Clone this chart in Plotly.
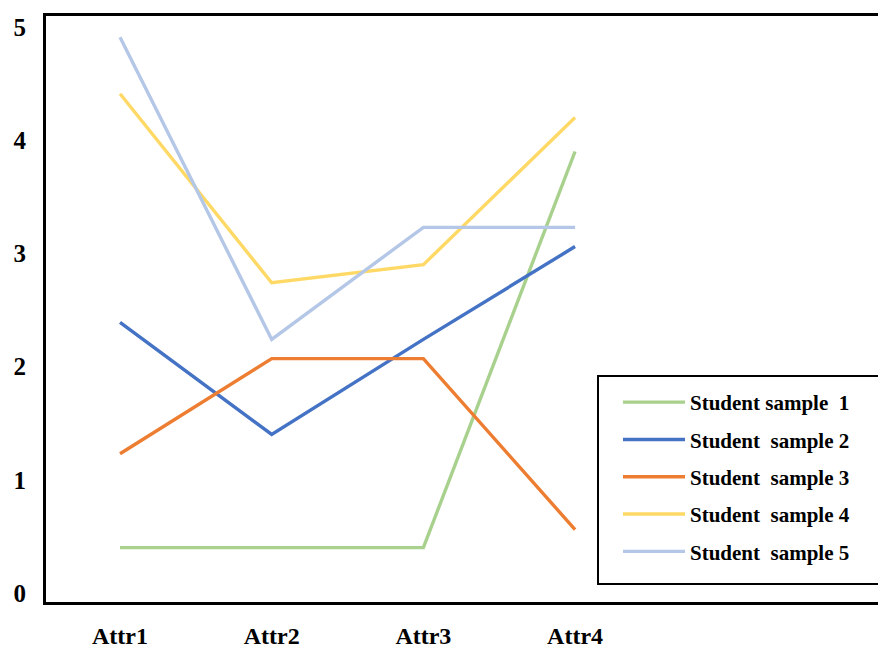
import plotly.graph_objects as go

categories = ["Attr1", "Attr2", "Attr3", "Attr4"]
x_pos = [0, 1, 2, 3]

series_names = [
    "Student sample\u00a0 1",
    "Student\u00a0 sample 2",
    "Student\u00a0 sample 3",
    "Student\u00a0 sample 4",
    "Student\u00a0 sample 5",
]
sample1 = [0.40, 0.40, 0.40, 3.90]
sample2 = [2.39, 1.40, 2.24, 3.06]
sample3 = [1.23, 2.07, 2.07, 0.56]
sample4 = [4.41, 2.74, 2.90, 4.20]
sample5 = [4.91, 2.24, 3.23, 3.23]
series_values = [sample1, sample2, sample3, sample4, sample5]
colors = ["#A9D18E", "#4472C4", "#ED7D31", "#FFD966", "#B4C7E7"]

y_ticks = [0, 1, 2, 3, 4, 5]

FONT = "Liberation Serif, Times New Roman, serif"

fig = go.Figure()
for i, (name, vals, col) in enumerate(zip(series_names, series_values, colors)):
    fig.add_trace(go.Scatter(
        x=x_pos, y=vals, mode="lines", name=name,
        line=dict(color=col, width=3.4),
        legendgroup=f"g{i}",
    ))

fig.update_layout(
    width=886, height=648,
    margin=dict(l=38, r=8, t=8, b=54, autoexpand=False),
    paper_bgcolor="white", plot_bgcolor="white",
    font=dict(family=FONT, color="black"),
    showlegend=True,
    legend=dict(
        x=(618 - 46) / 840, y=(602 - 382) / 586, xanchor="left", yanchor="top",
        bgcolor="rgba(0,0,0,0)", borderwidth=0,
        font=dict(family=FONT, size=21, color="black", weight="bold"),
        itemwidth=62, tracegroupgap=7,
    ),
    xaxis=dict(
        range=[-0.488, 5.05], tickvals=x_pos, ticktext=categories,
        showgrid=False, zeroline=False, showline=True, mirror=True,
        linecolor="black", linewidth=3, ticks="",
        tickfont=dict(family=FONT, size=24, weight="bold"),
        ticklabelstandoff=10, automargin=False,
    ),
    yaxis=dict(
        range=[-0.08, 5.097], tickvals=y_ticks,
        showgrid=False, zeroline=False, showline=True, mirror=False,
        linecolor="black", linewidth=3, ticks="",
        tickfont=dict(family=FONT, size=25, weight="bold"),
        ticklabelstandoff=12, automargin=False,
    ),
    shapes=[dict(
        type="rect", xref="paper", yref="paper",
        x0=(598 - 46) / 840, x1=(882 - 46) / 840,
        y0=(602 - 584) / 586, y1=(602 - 376) / 586,
        line=dict(color="black", width=2), fillcolor="white", layer="below",
    )],
)

fig.write_html("out.html")
